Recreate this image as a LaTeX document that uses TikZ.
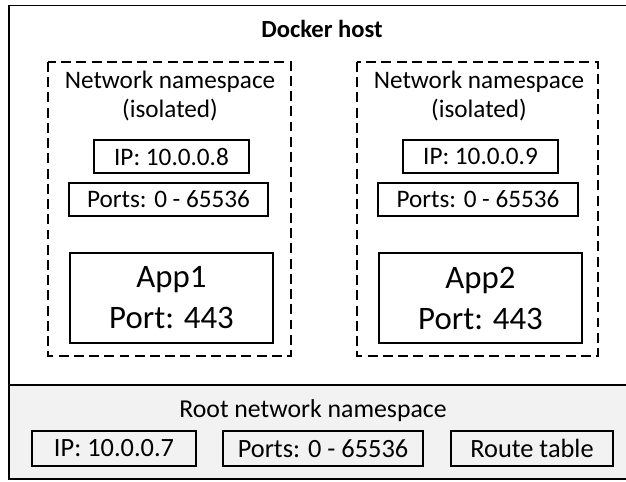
\documentclass[tikz,border=0pt]{standalone}
\usepackage{fontspec}
\setmainfont{Carlito}
\usetikzlibrary{positioning}
\tikzset{
  field/.style={draw,line width=1.2pt,minimum height=33*0.03cm,inner sep=0pt,font=\fontsize{21.5}{25}\selectfont},
  appbox/.style={draw,line width=1.2pt,minimum width=203*0.03cm,minimum height=90*0.03cm,inner sep=0pt,align=center,font=\fontsize{28}{35}\selectfont},
  nsbox/.style={draw,line width=1.2pt,dash pattern=on 8.5pt off 4.5pt},
  title/.style={align=center,font=\fontsize{21.5}{25}\selectfont}
}

\begin{document}
\begin{tikzpicture}[x=0.03cm,y=-0.03cm]
  \useasboundingbox (0,0) rectangle (626,481);
  % host frame, root namespace strip at the bottom
  \fill[black!5] (9,385) rectangle (640,479);
  \draw[line width=1.7pt] (9,5.5) rectangle (640,479);
  \draw[line width=1.5pt] (9,385) -- (640,385);
  \node[font=\fontsize{21}{25}\selectfont\bfseries] (host) at (322,29) {Docker host};
  % left namespace
  \draw[nsbox] (48,62) rectangle (291,356);
  \node[title] (ns1) at (170,96) {Network namespace\\(isolated)};
  \node[field,minimum width=155*0.03cm] (ip1) at (171.5,156.5) {IP: 10.0.0.8};
  \node[field,minimum width=199*0.03cm] (ports1) at (168.5,199.5) {Ports: 0 - 65536};
  \node[appbox] (app1) at (171.5,298) {App1\\Port: 443};
  % right namespace
  \draw[nsbox] (357,62) rectangle (598,356);
  \node[title] (ns2) at (479,96) {Network namespace\\(isolated)};
  \node[field,minimum width=155*0.03cm] (ip2) at (480.5,156.5) {IP: 10.0.0.9};
  \node[field,minimum width=200*0.03cm] (ports2) at (478,199.5) {Ports: 0 - 65536};
  \node[appbox] (app2) at (480.5,298) {App2\\Port: 443};
  % root namespace
  \node[font=\fontsize{22}{25}\selectfont] (root) at (313,411) {Root network namespace};
  \node[field,minimum width=164*0.03cm,minimum height=35*0.03cm,font=\fontsize{22.5}{25}\selectfont] (ip0) at (114,448.5) {IP: 10.0.0.7};
  \node[field,minimum width=200*0.03cm,minimum height=35*0.03cm,font=\fontsize{22.5}{25}\selectfont] (ports0) at (323,448.5) {Ports: 0 - 65536};
  \node[field,minimum width=162*0.03cm,minimum height=35*0.03cm,font=\fontsize{22.5}{25}\selectfont] (route) at (532,448.5) {Route table};
\end{tikzpicture}
\end{document}
